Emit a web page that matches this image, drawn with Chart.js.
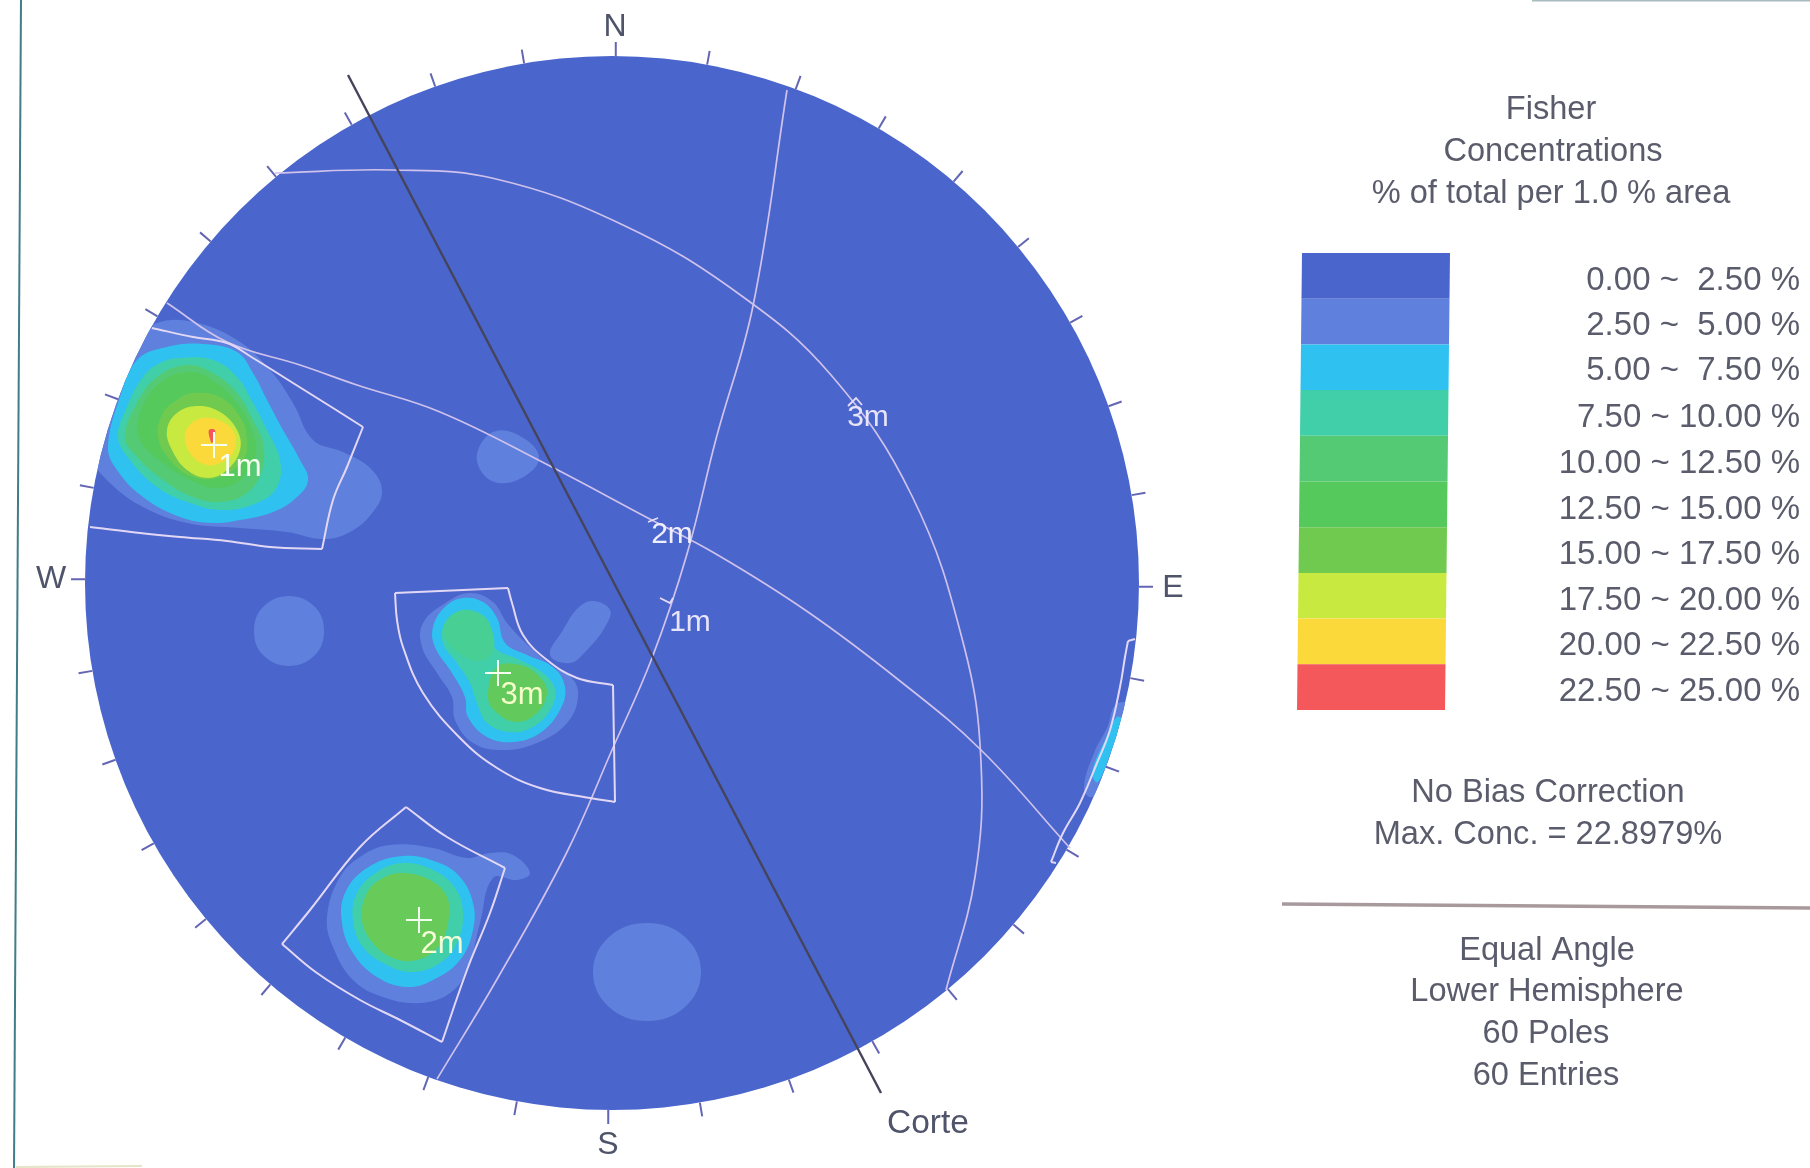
<!DOCTYPE html>
<html><head><meta charset="utf-8">
<style>html,body{margin:0;padding:0;background:#fff}canvas{display:block;filter:blur(0.5px)}</style>
<script src="https://cdn.jsdelivr.net/npm/chart.js@4/dist/chart.umd.js"></script>
</head><body><canvas id="c" width="1810" height="1168"></canvas>
<script>
// Stereonet digitised coordinates: origin at net centre, net radius = 527 units
const levelBounds=[0,2.5,5,7.5,10,12.5,15,17.5,20,22.5,25];
const levelLabels=["0.00 ~  2.50 %","2.50 ~  5.00 %","5.00 ~  7.50 %","7.50 ~ 10.00 %","10.00 ~ 12.50 %","12.50 ~ 15.00 %","15.00 ~ 17.50 %","17.50 ~ 20.00 %","20.00 ~ 22.50 %","22.50 ~ 25.00 %"];
const levelColors=["#4A65CC","#5F80DC","#2FC2F0","#40CFA8","#55CA74","#56C95C","#70CA50","#C8E93F","#FBD93A","#F5585A"];
const tickAzimuths=[0,10,20,30,40,50,60,70,80,90,100,110,120,130,140,150,160,170,180,190,200,210,220,230,240,250,260,270,280,290,300,310,320,330,340,350];

// set 1 contours
const c1L1=[[-455,260],[-419,261],[-375,243],[-342,213],[-319,180],[-299,143],[-269,131],[-242,115],[-230,93],[-239,71],[-262,51],[-289,44],[-325,51],[-372,55],[-425,60],[-469,76],[-502,100],[-522,126],[-545,190],[-482,240]];
const c1L2=[[-409,239],[-375,231],[-359,210],[-345,183],[-329,153],[-312,123],[-304,103],[-315,86],[-339,71],[-372,63],[-399,60],[-432,66],[-469,86],[-495,113],[-504,136],[-492,186],[-475,223],[-445,236]];
const c1L3=[[-432,225],[-399,223],[-375,206],[-359,180],[-345,153],[-332,123],[-335,96],[-355,80],[-389,73],[-422,80],[-455,96],[-482,123],[-494,146],[-485,176],[-469,206],[-452,220]];
const c1L4=[[-425,218],[-399,210],[-375,190],[-359,163],[-349,140],[-350,113],[-365,90],[-392,81],[-419,86],[-449,103],[-475,126],[-487,146],[-475,180],[-455,206]];
const c1L5=[[-422,211],[-395,200],[-372,176],[-359,150],[-357,126],[-372,103],[-395,95],[-422,103],[-449,120],[-472,143],[-472,170],[-452,200]];
const c1L6=[[-419,190],[-392,186],[-372,166],[-365,143],[-369,123],[-392,106],[-419,106],[-442,123],[-454,146],[-449,170],[-435,183]];
const c1L7=[[-415,177],[-392,171],[-375,153],[-372,133],[-385,113],[-404,105],[-425,113],[-440,133],[-445,153],[-435,170]];
const c1L8=[[-409,165],[-389,161],[-377,148],[-379,130],[-392,120],[-405,118],[-419,126],[-427,143],[-424,156]];
const c1L9=[[-403,153],[-397,153],[-398,145],[-400,140],[-402,144]];
// set 3 contours
const c3L1=[[-165,-19],[-189,-40],[-190,-64],[-175,-90],[-160,-114],[-157,-137],[-139,-160],[-109,-167],[-75,-160],[-45,-140],[-34,-114],[-40,-95],[-59,-84],[-82,-64],[-105,-40],[-119,-19],[-142,-10]];
const c3Lobe=[[-19,-18],[-2,-27],[-7,-44],[-25,-67],[-42,-80],[-62,-72],[-49,-47],[-34,-25]];
const c3L2=[[-149,-15],[-129,-19],[-115,-35],[-107,-60],[-85,-72],[-59,-84],[-47,-104],[-52,-127],[-72,-150],[-99,-159],[-125,-154],[-144,-134],[-147,-114],[-160,-90],[-177,-64],[-179,-44],[-167,-24]];
const c3L3=[[-150,-27],[-129,-32],[-120,-47],[-117,-65],[-92,-77],[-69,-90],[-57,-107],[-62,-127],[-79,-144],[-102,-149],[-125,-140],[-135,-120],[-142,-100],[-155,-80],[-169,-60],[-167,-40]];
const c3L4a=[[-152,-28],[-130,-33],[-120,-48],[-119,-68],[-132,-78],[-150,-72],[-165,-58],[-168,-42]];
const c3L4b=[[-115,-84],[-92,-82],[-72,-94],[-65,-110],[-75,-130],[-95,-139],[-115,-130],[-124,-114]];
// set 2 contours
const c2L1=[[-222,-262],[-179,-265],[-145,-275],[-122,-270],[-99,-272],[-82,-290],[-95,-297],[-119,-295],[-132,-340],[-145,-387],[-162,-410],[-192,-420],[-229,-414],[-259,-397],[-279,-364],[-285,-334],[-272,-294],[-249,-272]];
const c2L2=[[-209,-273],[-175,-279],[-152,-294],[-139,-320],[-139,-347],[-152,-377],[-179,-397],[-205,-404],[-235,-394],[-259,-370],[-270,-340],[-267,-310],[-245,-285]];
const c2L3=[[-209,-280],[-179,-287],[-157,-305],[-149,-330],[-155,-360],[-172,-380],[-199,-389],[-225,-382],[-249,-364],[-259,-337],[-255,-310],[-235,-289]];
const c2L4=[[-209,-290],[-182,-297],[-165,-314],[-164,-340],[-174,-364],[-195,-377],[-219,-375],[-239,-360],[-250,-337],[-245,-310],[-229,-295]];
// isolated low-density patches
const blobA=[[-116,152],[-87,144],[-73,125],[-87,107],[-113,100],[-131,112],[-134,133]];
const blobB=[[-323,-13],[-297,-24],[-288,-48],[-297,-72],[-323,-83],[-349,-72],[-358,-48],[-349,-24]];
const blobC=[[35,-340],[73,-354],[89,-389],[73,-424],[35,-438],[-3,-424],[-19,-389],[-3,-354]];
const rimL1=[[506,-120],[495,-145],[482,-170],[472,-205],[480,-214],[520,-180],[535,-130]];
const rimL2=[[505,-134],[493,-157],[480,-190],[486,-199],[501,-164],[512,-140]];
// planes and their end marks
const plane1m=[[175,493],[141,277],[104,144],[75,29],[40,-75],[0,-167],[-46,-271],[-116,-398],[-175,-496]];
const plane2m=[[-445,280],[-385,241],[-312,218],[-255,198],[-172,171],[-64,118],[34,66],[104,29],[196,-29],[288,-98],[369,-167],[458,-265]];
const plane3m=[[-337,410],[-220,413],[-116,404],[11,358],[127,289],[219,208],[300,87],[352,-63],[369,-179],[363,-294],[334,-407]];
const mark1m=[[48,-15],[58,-20],[61,-15]];
const mark2m=[[36,61],[46,65]];
const mark3m=[[236,177],[244,185],[250,178]];
const corte=[[-264,508],[269,-510]];
// pole windows, edge by edge
const win1Top=[[-460,255],[-419,246],[-385,240],[-359,225],[-319,200],[-279,175],[-249,156]];
const win1Side=[[-249,156],[-265,116],[-279,83],[-290,34]];
const win1Low=[[-290,34],[-342,36],[-385,42],[-432,46],[-472,50],[-522,56]];
const win2A=[[-330,-361],[-302,-327],[-252,-264],[-206,-224]];
const win2B=[[-206,-224],[-165,-254],[-107,-285]];
const win2C=[[-107,-285],[-122,-330],[-145,-387],[-170,-459]];
const win2D=[[-170,-459],[-212,-437],[-252,-417],[-295,-390],[-330,-361]];
const win3A=[[-217,-10],[-104,-5]];
const win3B=[[-104,-5],[-100,-20],[-89,-52],[-65,-77],[-35,-95],[1,-102]];
const win3C=[[1,-102],[3,-219]];
const win3D=[[3,-219],[-22,-215],[-72,-205],[-115,-185],[-152,-155],[-189,-110],[-209,-64],[-215,-37],[-217,-10]];
const win4A=[[523,-56],[516,-58]];
const win4B=[[516,-58],[513,-74],[508,-104],[498,-147],[485,-180],[468,-220],[451,-250],[439,-279]];
const win4C=[[439,-279],[444,-280]];
const divider=[[670,-321],[1198,-325]];
const frameLeft=[[-591,585],[-598,-585]];
const frameTop=[[920,582.5],[1198,582.5]];
const frameBottom=[[-596,-584],[-470,-583]];
const crossX=[-398,-193,-114];
const crossY=[138,-337,-90];

const NET_R=527, TILT=0.4;
const toPts=a=>a.map(p=>({x:p[0],y:p[1]}));
const datasets=[];
function add(ds){datasets.push(Object.assign({showLine:true,pointRadius:0,borderWidth:0,clip:false},ds));}
function region(arr,color,tension=0.4){
  const n=arr.length;
  const wrap=[arr[n-1],...arr,arr[0],arr[1]];
  add({label:"contour",data:toPts(wrap),tension,borderColor:"transparent",backgroundColor:color,regionFill:true,netClip:true});
}
const C=levelColors;
// net body
add({label:"net",data:[{x:0,y:0}],showLine:false,pointRadius:NET_R,pointHoverRadius:NET_R,pointBackgroundColor:C[0],pointBorderWidth:0});
// ticks
const tickPts=[];
tickAzimuths.forEach(a=>{const t=(a+TILT)*Math.PI/180;
  tickPts.push({x:NET_R*Math.sin(t),y:NET_R*Math.cos(t)},{x:(NET_R+14)*Math.sin(t),y:(NET_R+14)*Math.cos(t)},{x:NaN,y:NaN});});
add({label:"ticks",data:tickPts,borderColor:"#6466b4",borderWidth:2,spanGaps:false});
add({label:"frame",data:toPts(frameLeft),borderColor:"#3f7d88",borderWidth:2});
add({label:"frameTop",data:toPts(frameTop),borderColor:"#a8bcc0",borderWidth:2});
add({label:"frameBottom",data:toPts(frameBottom),borderColor:"#e4e4c8",borderWidth:2});
[blobA,blobB,blobC,rimL1,c1L1,c3L1,c3Lobe,c2L1].forEach(a=>region(a,C[1]));
region(rimL2,C[2]);
region(c1L2,C[2]);region(c3L2,C[2]);region(c2L2,C[2]);
region(c1L3,C[3]);region(c3L3,C[3]);region(c2L3,C[3]);
region(c1L4,C[4]);region(c3L4a,"#48CF94");region(c3L4b,"#62CA5C");region(c2L4,"#68CA58");
region(c1L5,C[5]);region(c1L6,C[6]);region(c1L7,C[7]);region(c1L8,C[8]);region(c1L9,C[9]);
// lines
[plane1m,plane2m,plane3m].forEach((a,i)=>add({label:"plane"+(i+1),data:toPts(a),tension:0.4,borderColor:"#cfc2ec",borderWidth:1.7}));
[mark1m,mark2m,mark3m].forEach((a,i)=>add({label:"mark"+(i+1),data:toPts(a),borderColor:"#e6ddf6",borderWidth:1.8}));
[win1Top,win1Side,win1Low,win2A,win2B,win2C,win2D,win3A,win3B,win3C,win3D,win4A,win4B,win4C].forEach((a,i)=>add({label:"window"+i,data:toPts(a),tension:0.4,borderColor:"#e2d8f5",borderWidth:2}));
add({label:"Corte",data:toPts(corte),borderColor:"#45445a",borderWidth:2.4});
add({label:"divider",data:toPts(divider),borderColor:"#a89a9c",borderWidth:3.5});
add({label:"poles",data:crossX.map((x,i)=>({x,y:crossY[i]})),showLine:false,pointStyle:"cross",pointRadius:13,pointBorderColor:"#f4fff0",pointBorderWidth:2});
// legend bands
const LX0=690,LX1=838,LSK=5,LTOP=330,LH=457;
levelColors.forEach((col,i)=>{
  const y0=LTOP-levelBounds[i]/25*LH,y1=LTOP-levelBounds[i+1]/25*LH;
  const s0=LSK*i/10,s1=LSK*(i+1)/10;
  add({label:levelLabels[i],data:toPts([[LX0-s0,y0],[LX1-s0,y0],[LX1-s1,y1],[LX0-s1,y1]]),borderColor:"transparent",backgroundColor:col,regionFill:true});
});
datasets.forEach((d,i)=>d.order=datasets.length-i);

const FONT='"Liberation Sans",Arial,sans-serif', INK="#5a5c6c";
const netLabels=[
 {t:"N",x:3,y:556,c:"#50546a",s:32},{t:"S",x:-4,y:-562,c:"#50546a",s:32},
 {t:"W",x:-561,y:4,c:"#50546a",s:32},{t:"E",x:561,y:-5,c:"#50546a",s:32},
 {t:"Corte",x:316,y:-541,c:"#50546a",s:33.5},
 {t:"3m",x:256,y:165,c:"#e8e4fa",s:30},{t:"2m",x:60,y:48,c:"#f0eefc",s:30},{t:"1m",x:78,y:-40,c:"#e8e4fa",s:30},
 {t:"1m",x:-372,y:116,c:"#f6fff2",s:31},{t:"2m",x:-170,y:-361,c:"#f6ffd8",s:31},{t:"3m",x:-90,y:-112,c:"#f6ffc8",s:31}
];
const sideText=[
 ["Fisher",1551,110],["Concentrations",1553,152],["% of total per 1.0 % area",1551,194],
 ["No Bias Correction",1548,793],["Max. Conc. = 22.8979%",1548,835],
 ["Equal Angle",1547,951],["Lower Hemisphere",1547,992],["60 Poles",1546,1034],["60 Entries",1546,1076]
];
const legendY=[281,326,371,418,464,510,555,601,646,692];

const regionPlugin={id:"regionPlugin",
 beforeDatasetDraw(chart,args){
  const ds=chart.data.datasets[args.index]; if(!ds.regionFill) return;
  const ctx=chart.ctx,xs=chart.scales.x,ys=chart.scales.y,line=args.meta.dataset;
  ctx.save();
  if(ds.netClip){ctx.beginPath();ctx.arc(xs.getPixelForValue(0),ys.getPixelForValue(0),NET_R,0,Math.PI*2);ctx.clip();}
  ctx.beginPath();line.path(ctx);ctx.closePath();ctx.fillStyle=ds.backgroundColor;ctx.fill();
  ctx.restore();
 },
 afterDatasetsDraw(chart){
  const ctx=chart.ctx,xs=chart.scales.x,ys=chart.scales.y;
  ctx.save();ctx.textBaseline="middle";ctx.textAlign="center";
  netLabels.forEach(l=>{ctx.font=l.s+"px "+FONT;ctx.fillStyle=l.c;ctx.fillText(l.t,xs.getPixelForValue(l.x),ys.getPixelForValue(l.y));});
  ctx.font="32.6px "+FONT;ctx.fillStyle=INK;
  sideText.forEach(l=>ctx.fillText(l[0],l[1],l[2]));
  ctx.textAlign="right";ctx.font="33px "+FONT;
  levelLabels.forEach((t,i)=>ctx.fillText(t,1800,legendY[i]));
  ctx.restore();
 }};

new Chart(document.getElementById("c"),{type:"scatter",data:{datasets},plugins:[regionPlugin],
 options:{responsive:false,devicePixelRatio:1,animation:false,events:[],layout:{autoPadding:false,padding:0},
  plugins:{legend:{display:false},tooltip:{enabled:false},title:{display:false}},
  scales:{x:{type:"linear",display:false,min:-612,max:1198},y:{type:"linear",display:false,min:-585,max:583}}}});
</script></body></html>
